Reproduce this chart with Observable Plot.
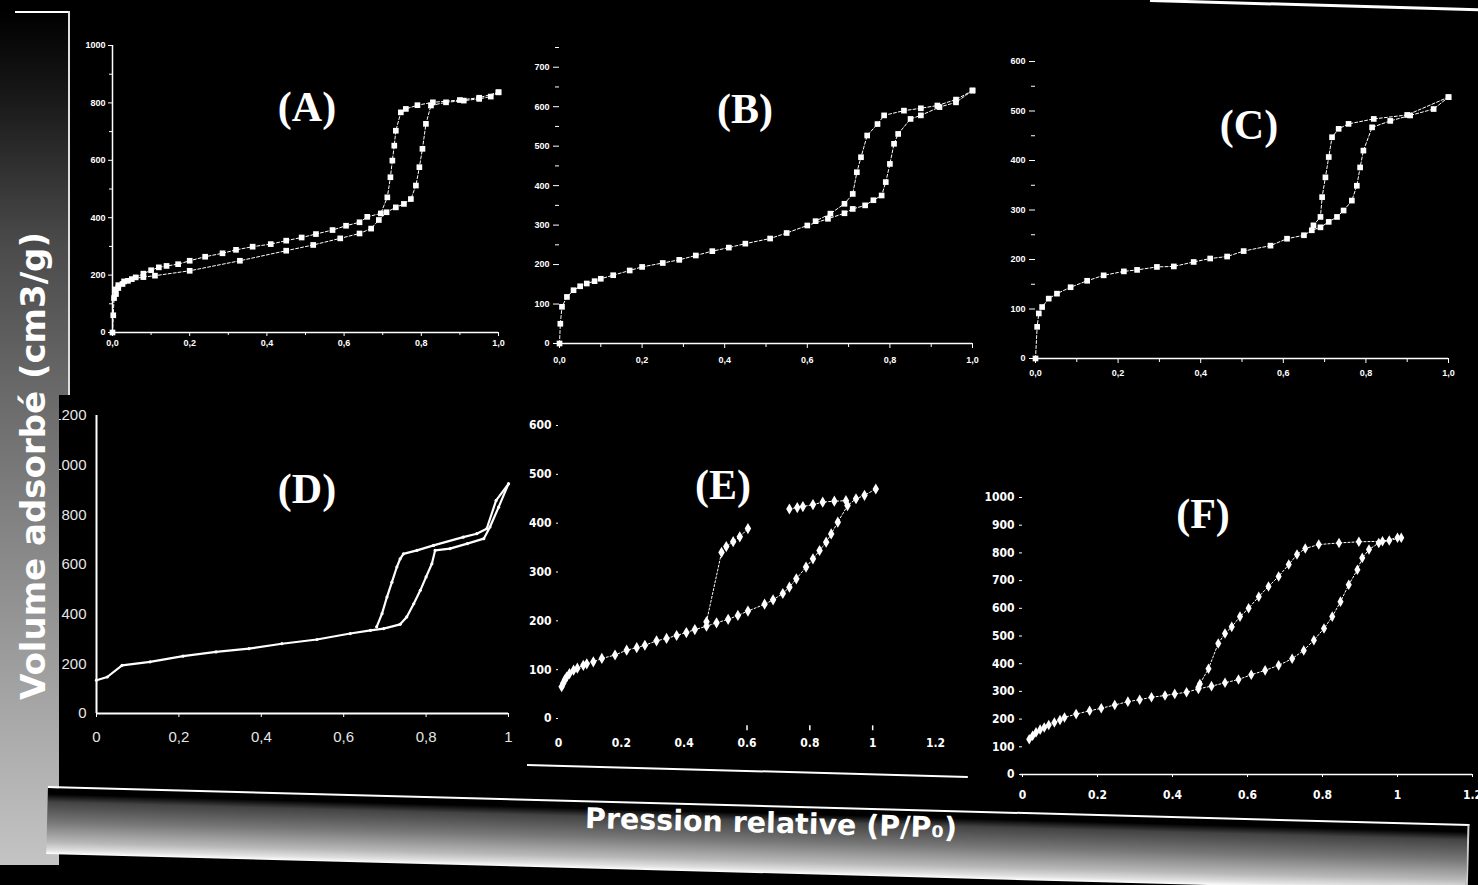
<!DOCTYPE html>
<html><head><meta charset="utf-8">
<script src="https://cdn.jsdelivr.net/npm/d3@7"></script>
<script src="https://cdn.jsdelivr.net/npm/@observablehq/plot@0.6"></script>
<style>
html,body{margin:0;padding:0;background:#000;}
#root{position:relative;width:1478px;height:885px;overflow:hidden;background:#000;}
#root svg{position:absolute;overflow:visible;}
.deco{position:absolute;}
.lbl{position:absolute;color:#fff;font-family:"Liberation Serif","Times New Roman",serif;font-weight:bold;font-size:42px;line-height:1;transform:translate(-50%,-50%);white-space:nowrap;}
.ttl{position:absolute;color:#fff;font-family:"DejaVu Sans",sans-serif;font-weight:bold;white-space:nowrap;line-height:1;}
</style></head><body><div id="root"></div>
<script>
// ---------- data (relative pressure, volume adsorbed) ----------
const aAds = [[0,0],[0.002,60],[0.004,120],[0.008,150],[0.015,165],[0.03,178],[0.05,186],[0.08,193],[0.11,198],[0.2,215],[0.33,250],[0.45,285],[0.52,305],[0.59,328],[0.64,345],[0.67,362],[0.69,392],[0.71,419],[0.734,436],[0.755,448],[0.773,465],[0.786,512],[0.795,576],[0.803,640],[0.812,727],[0.825,791],[0.864,802],[0.91,808],[0.95,814],[0.98,822],[1.0,837]];
const aDes = [[1.0,837],[0.95,818],[0.9,810],[0.83,802],[0.79,792],[0.76,779],[0.747,767],[0.734,703],[0.73,651],[0.725,599],[0.72,541],[0.712,471],[0.695,415],[0.66,403],[0.64,384],[0.605,372],[0.57,357],[0.527,343],[0.49,331],[0.45,320],[0.41,308],[0.363,299],[0.32,288],[0.285,276],[0.24,264],[0.2,250],[0.17,238],[0.14,232],[0.12,227],[0.1,217],[0.08,205],[0.06,192],[0.04,180],[0.026,169],[0.015,155],[0.009,134]];
const bAds = [[0,0],[0.002,50],[0.006,93],[0.018,118],[0.034,135],[0.05,145],[0.066,152],[0.085,158],[0.1,164],[0.13,173],[0.17,185],[0.2,194],[0.25,204],[0.29,212],[0.33,223],[0.37,234],[0.41,243],[0.45,253],[0.51,266],[0.55,280],[0.6,299],[0.65,316],[0.69,330],[0.71,341],[0.74,350],[0.76,363],[0.78,375],[0.79,409],[0.8,455],[0.81,506],[0.82,531],[0.85,569],[0.875,578],[0.92,599],[0.96,611],[1.0,641]];
const bDes = [[1.0,641],[0.96,618],[0.915,603],[0.875,596],[0.834,590],[0.786,578],[0.77,556],[0.745,527],[0.73,472],[0.72,434],[0.71,379],[0.69,354],[0.656,329],[0.62,310]];
const cAds = [[0,0],[0.004,64],[0.008,91],[0.016,104],[0.032,121],[0.052,131],[0.085,144],[0.125,157],[0.165,168],[0.214,176],[0.246,179],[0.294,185],[0.335,186],[0.383,195],[0.423,202],[0.464,206],[0.504,217],[0.569,228],[0.609,242],[0.65,249],[0.669,259],[0.69,265],[0.71,276],[0.73,286],[0.746,299],[0.766,319],[0.778,349],[0.786,386],[0.794,420],[0.815,467],[0.859,480],[0.907,491],[0.964,504],[1.0,528]];
const cDes = [[1.0,528],[0.9,492],[0.819,484],[0.758,474],[0.734,464],[0.718,447],[0.71,407],[0.702,366],[0.694,326],[0.69,286],[0.673,269]];
const dAds = [[0,134],[0.026,147],[0.062,194],[0.13,208],[0.21,231],[0.29,248],[0.37,261],[0.45,281],[0.535,298],[0.616,322],[0.665,335],[0.697,342],[0.737,359],[0.753,389],[0.77,442],[0.786,496],[0.8,550],[0.814,603],[0.822,657],[0.858,664],[0.9,684],[0.94,704],[0.955,751],[0.976,831],[1.0,925]];
const dDes = [[1.0,925],[0.97,858],[0.947,744],[0.923,724],[0.89,710],[0.818,677],[0.778,657],[0.745,643],[0.737,623],[0.729,590],[0.717,529],[0.705,469],[0.693,402],[0.68,349]];
const eAds = [[0.01,65],[0.015,72],[0.02,79],[0.026,85],[0.035,92],[0.048,99],[0.06,103],[0.079,109],[0.09,112],[0.111,116],[0.138,123],[0.18,130],[0.217,140],[0.249,145],[0.275,150],[0.312,159],[0.344,164],[0.376,170],[0.407,176],[0.434,182],[0.471,189],[0.503,196],[0.54,203],[0.571,211],[0.603,220],[0.656,234],[0.683,243],[0.714,256],[0.735,269],[0.757,286],[0.788,310],[0.81,327],[0.831,344],[0.852,361],[0.868,378],[0.889,402],[0.92,436],[0.947,450],[0.974,457],[1.01,470]];
const eDesHigh = [[0.735,429],[0.76,432],[0.778,434],[0.81,438],[0.841,443],[0.878,445],[0.915,446]];
const eDesLow = [[0.471,198],[0.519,340],[0.534,352],[0.556,362],[0.577,372],[0.603,389]];
const fAds = [[0.018,127],[0.027,140],[0.036,152],[0.047,162],[0.058,170],[0.07,179],[0.085,188],[0.1,197],[0.112,206],[0.143,218],[0.179,230],[0.21,239],[0.246,251],[0.281,263],[0.3125,270],[0.344,279],[0.38,285],[0.406,291],[0.4375,297],[0.469,309],[0.504,319],[0.54,331],[0.576,343],[0.61,360],[0.647,376],[0.683,394],[0.719,418],[0.75,448],[0.777,485],[0.804,527],[0.826,570],[0.848,624],[0.87,685],[0.893,739],[0.906,782],[0.924,812],[0.95,836],[0.978,845],[1.01,855]];
const fDes = [[1.0,855],[0.96,842],[0.897,840],[0.844,836],[0.79,830],[0.754,816],[0.732,794],[0.71,758],[0.683,715],[0.656,679],[0.63,642],[0.603,600],[0.58,570],[0.558,533],[0.54,509],[0.522,473],[0.496,382],[0.473,327],[0.469,315]];

// ---------- ticks ----------
const xTicks01 = [0,0.2,0.4,0.6,0.8,1];
const xMinor01 = [0.1,0.3,0.5,0.7,0.9];
const xTicks12 = [0,0.2,0.4,0.6,0.8,1,1.2];
const aYTicks = [0,200,400,600,800,1000];
const aYMinor = [100,300,500,700,900];
const bYTicks = [0,100,200,300,400,500,600,700];
const bYMinor = [250,350,450,550,650,750];
const cYTicks = [0,100,200,300,400,500,600];
const cYMinor = [150,250,350,450,550];
const dYTicks = [0,200,400,600,800,1000,1200];
const eYTicks = [0,100,200,300,400,500,600];
const eXMarks = [0.6,0.8,1];
const fYTicks = [0,100,200,300,400,500,600,700,800,900,1000];
const panelNames = ["(A)","(B)","(C)","(D)","(E)","(F)"];

const comma1 = v => v.toFixed(1).replace(".", ",");
const dFmt = v => (v === 0 || v === 1) ? String(v) : v.toFixed(1).replace(".", ",");
const dotFmt = v => (v === 0 || v === 1) ? String(v) : v.toFixed(1);
const blank = () => "";

const root = document.getElementById("root");

function rows(branches) {
  const out = [];
  for (const [name, pts] of branches) for (const [x, y] of pts) out.push({branch: name, x, y});
  return out;
}

function panel(cfg) {
  const ml = 55, mr = 20, mt = 12, mb = 40;
  const width = ml + (cfg.x1 - cfg.x0) + mr;
  const height = mt + (cfg.yb - cfg.yt) + mb;
  const svg = Plot.plot({
    width, height, marginLeft: ml, marginRight: mr, marginTop: mt, marginBottom: mb,
    style: {background: "transparent", color: cfg.color || "#fff", fontFamily: cfg.font, fontSize: cfg.fontSize + "px", fontWeight: cfg.fontWeight || "normal"},
    x: {domain: cfg.xDomain, axis: null},
    y: {domain: cfg.yDomain, axis: null},
    marks: cfg.marks
  });
  svg.style.left = (cfg.x0 - ml) + "px";
  svg.style.top = (cfg.yt - mt) + "px";
  root.appendChild(svg);
}

const dash = {stroke: "#fff", strokeWidth: 1, strokeDasharray: "3,2"};
const ax = (o) => ({label: null, stroke: "#fff", ...o});

// Panel A
{
  const data = rows([["ads", aAds], ["des", aDes]]);
  panel({x0: 112, x1: 498, yt: 45, yb: 332, xDomain: [0, 1], yDomain: [0, 1000],
    font: "Liberation Sans, Arial, sans-serif", fontSize: 9, fontWeight: "bold",
    marks: [
      Plot.ruleX([0], {y1: 0, y2: 1000, stroke: "#fff", strokeWidth: 1.5}),
      Plot.ruleY([0], {x1: 0, x2: 1, stroke: "#fff", strokeWidth: 1.5}),
      Plot.axisX(xTicks01, ax({tickFormat: comma1, tickSize: 4, tickPadding: 3})),
      Plot.axisX(xMinor01, ax({tickFormat: blank, tickSize: 3})),
      Plot.axisY(aYTicks, ax({tickFormat: d3.format("d"), tickSize: 4, tickPadding: 3})),
      Plot.axisY(aYMinor, ax({tickFormat: blank, tickSize: 3})),
      Plot.line(data, {x: "x", y: "y", z: "branch", ...dash}),
      Plot.dot(data, {x: "x", y: "y", symbol: "square", r: 3.2, fill: "#fff", stroke: null})
    ]});
}
// Panel B
{
  const data = rows([["ads", bAds], ["des", bDes]]);
  panel({x0: 559, x1: 972, yt: 47, yb: 343, xDomain: [0, 1], yDomain: [0, 750],
    font: "Liberation Sans, Arial, sans-serif", fontSize: 9, fontWeight: "bold",
    marks: [
      Plot.ruleY([0], {x1: 0, x2: 1, stroke: "#fff", strokeWidth: 1.5}),
      Plot.axisX(xTicks01, ax({tickFormat: comma1, tickSize: 5, tickPadding: 8})),
      Plot.axisX(xMinor01, ax({tickFormat: blank, tickSize: 4})),
      Plot.axisY(bYTicks, ax({tickFormat: d3.format("d"), tickSize: 6, tickPadding: 4})),
      Plot.axisY(bYMinor, ax({tickFormat: blank, tickSize: 4})),
      Plot.line(data, {x: "x", y: "y", z: "branch", ...dash}),
      Plot.dot(data, {x: "x", y: "y", symbol: "square", r: 3.2, fill: "#fff", stroke: null})
    ]});
}
// Panel C
{
  const data = rows([["ads", cAds], ["des", cDes]]);
  panel({x0: 1035, x1: 1448, yt: 61, yb: 358, xDomain: [0, 1], yDomain: [0, 600],
    font: "Liberation Sans, Arial, sans-serif", fontSize: 9, fontWeight: "bold",
    marks: [
      Plot.ruleY([0], {x1: 0, x2: 1, stroke: "#fff", strokeWidth: 1.5}),
      Plot.axisX(xTicks01, ax({tickFormat: comma1, tickSize: 5, tickPadding: 6})),
      Plot.axisX(xMinor01, ax({tickFormat: blank, tickSize: 4})),
      Plot.axisY(cYTicks, ax({tickFormat: d3.format("d"), tickSize: 6, tickPadding: 4})),
      Plot.axisY(cYMinor, ax({tickFormat: blank, tickSize: 4})),
      Plot.line(data, {x: "x", y: "y", z: "branch", ...dash}),
      Plot.dot(data, {x: "x", y: "y", symbol: "square", r: 3.2, fill: "#fff", stroke: null})
    ]});
}
// Panel D
{
  const data = rows([["ads", dAds], ["des", dDes]]);
  panel({x0: 96, x1: 508, yt: 415, yb: 713, xDomain: [0, 1], yDomain: [0, 1200],
    font: "Liberation Sans, Arial, sans-serif", fontSize: 15, color: "#e6e6e6",
    marks: [
      Plot.ruleX([0], {y1: 0, y2: 1200, stroke: "#fff", strokeWidth: 2}),
      Plot.ruleY([0], {x1: 0, x2: 1, stroke: "#fff", strokeWidth: 2}),
      Plot.axisX(xTicks01, ax({tickFormat: dFmt, tickSize: 4, tickPadding: 14})),
      Plot.axisY(dYTicks, ax({tickFormat: d3.format("d"), tickSize: 0, tickPadding: 10})),
      Plot.line(data, {x: "x", y: "y", z: "branch", stroke: "#fff", strokeWidth: 2.2}),
      Plot.dot(data, {x: "x", y: "y", r: 1.6, fill: "#fff", stroke: null})
    ]});
}
// Panel E
{
  const data = rows([["ads", eAds], ["desH", eDesHigh], ["desL", eDesLow]]);
  panel({x0: 558, x1: 935, yt: 425, yb: 718, xDomain: [0, 1.2], yDomain: [0, 600],
    font: "Liberation Sans Narrow, DejaVu Sans Condensed, sans-serif", fontSize: 12, fontWeight: "bold",
    marks: [
      Plot.axisX(xTicks12, ax({tickFormat: dotFmt, tickSize: 0, tickPadding: 20})),
      Plot.ruleX(eXMarks, {y1: -15, y2: -25, stroke: "#fff", strokeWidth: 1.5}),
      Plot.axisY(eYTicks, ax({tickFormat: d3.format("d"), tickSize: 2, tickPadding: 5})),
      Plot.line(data, {x: "x", y: "y", z: "branch", stroke: "#fff", strokeWidth: 1, strokeDasharray: "2,2"}),
      Plot.dot(data, {x: "x", y: "y", symbol: "diamond", r: 3.4, fill: "#fff", stroke: null})
    ]});
}
// Panel F
{
  const data = rows([["ads", fAds], ["des", fDes]]);
  panel({x0: 1022, x1: 1472, yt: 497, yb: 774, xDomain: [0, 1.2], yDomain: [0, 1000],
    font: "Liberation Sans Narrow, DejaVu Sans Condensed, sans-serif", fontSize: 12, fontWeight: "bold",
    marks: [
      Plot.ruleY([0], {x1: -0.005, x2: 1.2, stroke: "#fff", strokeWidth: 1.5}),
      Plot.axisX(xTicks12, ax({tickFormat: dotFmt, tickSize: 3, tickPadding: 13})),
      Plot.axisY(fYTicks, ax({tickFormat: d3.format("d"), tickSize: 3, tickPadding: 5})),
      Plot.line(data, {x: "x", y: "y", z: "branch", stroke: "#fff", strokeWidth: 1, strokeDasharray: "2,2"}),
      Plot.dot(data, {x: "x", y: "y", symbol: "diamond", r: 3.2, fill: "#fff", stroke: null})
    ]});
}

// ---------- panel letters ----------
const letterPos = [[307,107],[745,109],[1249,125],[307,489],[723,485],[1203,514]];
panelNames.forEach((t, i) => {
  const d = document.createElement("div");
  d.className = "lbl"; d.textContent = t;
  d.style.left = letterPos[i][0] + "px"; d.style.top = letterPos[i][1] + "px";
  root.appendChild(d);
});

// ---------- slide decoration (photographed frame) ----------
function deco(css) { const d = document.createElement("div"); d.className = "deco"; d.style.cssText += css; root.appendChild(d); return d; }
// left grey band
deco("left:0;top:12px;width:69px;height:383px;background:linear-gradient(to bottom,#000 0px,#1a1a1a 90px,#4a4a4a 230px,#6a6a6a 383px);");
deco("left:0;top:395px;width:59px;height:470px;background:linear-gradient(to bottom,#6a6a6a 0px,#9a9a9a 250px,#c4c4c4 470px);");
deco("left:15px;top:11px;width:55px;height:2px;background:#fff;");
deco("left:68px;top:11px;width:2px;height:384px;background:#ddd;");
// bottom band (slightly tilted)
deco("left:48px;top:786px;width:1420px;height:66px;transform-origin:0 0;transform:rotate(1.53deg);border-top:2px solid #fff;border-right:2px solid #ccc;background:linear-gradient(to bottom,#000 0px,#000 6px,#444 14px,#777 34px,#b8b8b8 54px,#e0e0e0 62px,#fff 66px);");
// E panel bottom line, top right line
deco("left:527px;top:764px;width:441px;height:2px;background:#fff;transform-origin:0 0;transform:rotate(1.55deg);");
deco("left:1150px;top:-1px;width:335px;height:3px;background:#fff;transform-origin:0 0;transform:rotate(1.6deg);");

// ---------- axis titles ----------
const yt = deco("");
yt.className = "ttl"; yt.textContent = "Volume adsorbé (cm3/g)";
yt.style.cssText += "left:33px;top:466px;font-size:34px;transform:translate(-50%,-50%) rotate(-90deg);";
const xt = deco("");
xt.className = "ttl"; xt.textContent = "Pression relative (P/P₀)";
xt.style.cssText += "left:771px;top:824px;font-size:28.5px;transform:translate(-50%,-50%) rotate(1.5deg);";
</script></body></html>
